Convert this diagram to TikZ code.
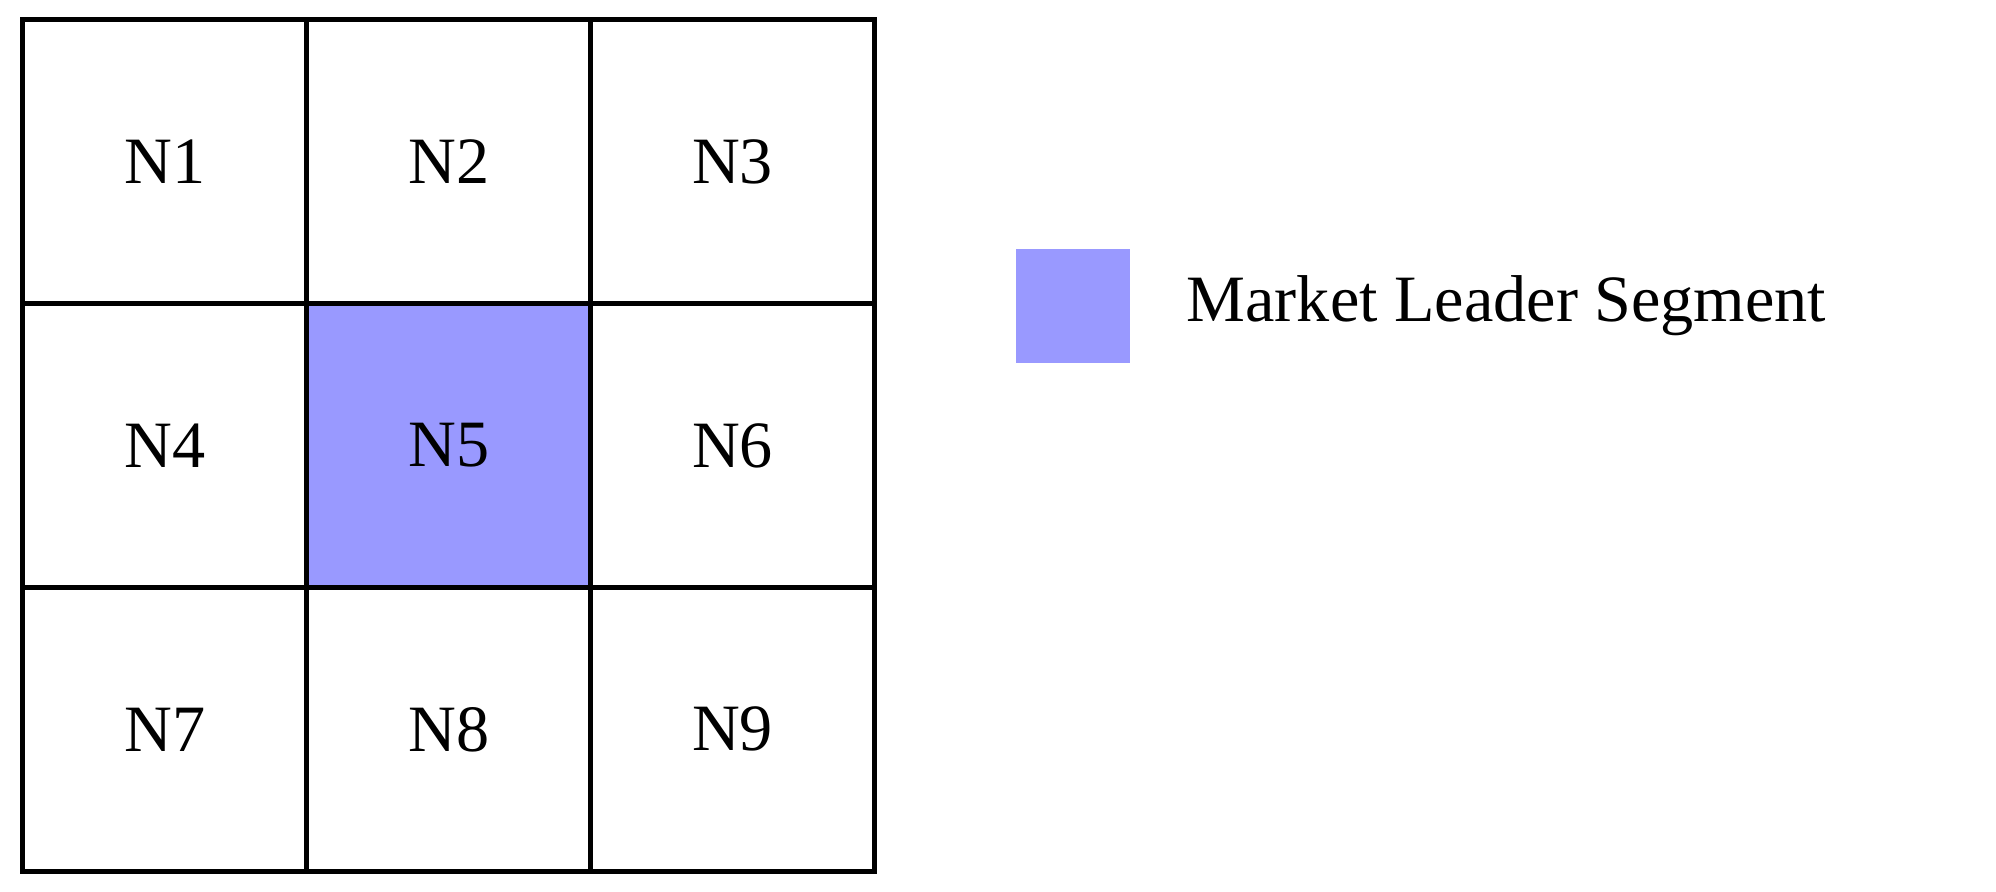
\documentclass[tikz,border=0pt]{standalone}
\usepackage{fontspec}
\setmainfont{Liberation Serif}
\begin{document}
\begin{tikzpicture}[x=1pt,y=-1pt,
  cell/.style={draw=black,line width=4pt,minimum width=223pt,minimum height=223pt,inner sep=0pt,font=\fontsize{52}{60}\selectfont},
  lab/.style={font=\fontsize{52}{60}\selectfont,anchor=west,inner sep=0pt}]
\useasboundingbox (0,0) rectangle (1568,700);
\definecolor{lead}{HTML}{9999FF}
\foreach \r in {0,1,2}{\foreach \c in {0,1,2}{
  \pgfmathtruncatemacro\n{\r*3+\c+1}
  \ifnum\n=5
    \node[cell,fill=lead] (n\n) at ({129.5+\c*223},{127+\r*223}) {N\n};
  \else
    \node[cell] (n\n) at ({129.5+\c*223},{127+\r*223}) {N\n};
  \fi}}
\node[fill=lead,minimum width=90pt,minimum height=89pt,inner sep=0pt] (key) at (843,240.5) {};
\node[lab] (keytext) at (932,240) {Market Leader Segment};
\end{tikzpicture}
\end{document}
